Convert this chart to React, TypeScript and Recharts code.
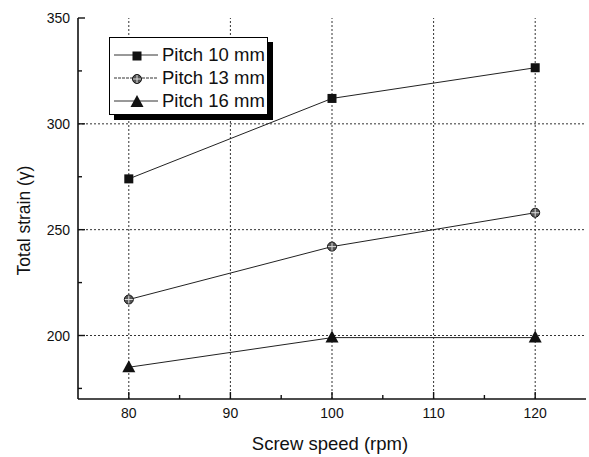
import { LineChart, Line, XAxis, YAxis, ReferenceLine, Legend } from 'recharts';

const speeds = [80, 100, 120];
const pitch10 = [274, 312, 326.5];
const pitch13 = [217, 242, 258];
const pitch16 = [185, 199, 199];
const seriesNames = ['Pitch 10 mm', 'Pitch 13 mm', 'Pitch 16 mm'];
const xTicks = [80, 85, 90, 95, 100, 105, 110, 115, 120];
const yTicks = [175, 200, 225, 250, 275, 300, 325, 350];
const xGrid = [80, 90, 100, 110, 120];
const yGrid = [200, 250, 300];

const FONT = '"Liberation Sans", Arial, sans-serif';
const INK = '#111';

const data = speeds.map((s, i) => ({
  speed: s,
  p10: pitch10[i],
  p13: pitch13[i],
  p16: pitch16[i],
}));

type Kind = 'square' | 'circle' | 'triangle';
const kinds: Kind[] = ['square', 'circle', 'triangle'];
const keys = ['p10', 'p13', 'p16'];

function Marker({ kind, cx, cy }: { kind: Kind; cx: number; cy: number }) {
  if (kind === 'square') {
    return <rect x={cx - 4.5} y={cy - 4.5} width={9} height={9} fill={INK} />;
  }
  if (kind === 'circle') {
    return (
      <g>
        <circle cx={cx} cy={cy} r={4.5} fill="#555" stroke={INK} strokeWidth={1} />
        <line x1={cx - 4} y1={cy} x2={cx + 4} y2={cy} stroke="#ddd" strokeWidth={1} />
        <line x1={cx} y1={cy - 4} x2={cx} y2={cy + 4} stroke="#ddd" strokeWidth={1} />
      </g>
    );
  }
  return (
    <polygon
      points={`${cx},${cy - 7} ${cx - 6.5},${cy + 5} ${cx + 6.5},${cy + 5}`}
      fill={INK}
    />
  );
}

// ticks point inward, Origin style; labels only on bottom/left
const makeTick = (side: 'bottom' | 'top' | 'left' | 'right', step: number, labels: boolean) =>
  (props: any) => {
    const { x, y, payload } = props;
    const v = payload.value;
    const major = v % step === 0;
    const len = major ? 7 : 4;
    let line;
    if (side === 'bottom') line = <line x1={x} y1={y} x2={x} y2={y - len} stroke={INK} strokeWidth={1.4} />;
    else if (side === 'top') line = <line x1={x} y1={y} x2={x} y2={y + len} stroke={INK} strokeWidth={1.4} />;
    else if (side === 'left') line = <line x1={x} y1={y} x2={x + len} y2={y} stroke={INK} strokeWidth={1.4} />;
    else line = <line x1={x} y1={y} x2={x - len} y2={y} stroke={INK} strokeWidth={1.4} />;
    let label = null;
    if (labels && major) {
      if (side === 'bottom') {
        label = (
          <text x={x} y={y + 19} textAnchor="middle" fontSize={14} fontFamily={FONT} fill={INK}>
            {v}
          </text>
        );
      } else if (side === 'left') {
        label = (
          <text x={x - 8} y={y + 5} textAnchor="end" fontSize={14} fontFamily={FONT} fill={INK}>
            {v}
          </text>
        );
      }
    }
    return (
      <g>
        {line}
        {label}
      </g>
    );
  };

const XTitle = (props: any) => {
  const { viewBox } = props;
  return (
    <text x={viewBox.x + viewBox.width / 2 - 2} y={450} textAnchor="middle" fontSize={18.5} fontFamily={FONT} fill={INK}>
      Screw speed (rpm)
    </text>
  );
};

const YTitle = (props: any) => {
  const { viewBox } = props;
  const cy = viewBox.y + viewBox.height / 2 + 12;
  return (
    <text x={30} y={cy} transform={`rotate(-90 30 ${cy})`} textAnchor="middle" fontSize={17.5} fontFamily={FONT} fill={INK}>
      Total strain (γ)
    </text>
  );
};

const LegendBox = () => (
  <div
    style={{
      border: '1px solid #000',
      background: '#fff',
      boxShadow: '5px 5px 0 #000',
      width: 157,
      padding: '5px 0 2px 0',
      fontFamily: FONT,
      fontSize: 18.5,
      color: INK,
    }}
  >
    {seriesNames.map((n, i) => (
      <div key={n} style={{ display: 'flex', alignItems: 'center', height: 23 }}>
        <svg width={52} height={16} style={{ flexShrink: 0 }}>
          <line x1={4} y1={8} x2={48} y2={8} stroke="#333" strokeWidth={1} strokeDasharray={i === 1 ? '3 1' : undefined} />
          <Marker kind={kinds[i]} cx={27} cy={9} />
        </svg>
        <span style={{ whiteSpace: 'nowrap' }}>{n}</span>
      </div>
    ))}
  </div>
);

export default function App() {
  return (
    <div style={{ position: 'absolute', left: 0, top: 0, background: '#fff' }}>
      <LineChart width={589} height={457} data={data} margin={{ top: 18, right: 3, bottom: 0, left: 0 }}>
        <XAxis
          xAxisId="b"
          dataKey="speed"
          type="number"
          domain={[75, 125]}
          ticks={xTicks}
          interval={0}
          height={58}
          tickSize={0}
          tickMargin={0}
          tickLine={false}
          axisLine={{ stroke: INK, strokeWidth: 1.6 }}
          tick={makeTick('bottom', 10, true)}
          label={<XTitle />}
        />
        <XAxis
          xAxisId="t"
          orientation="top"
          dataKey="speed"
          type="number"
          domain={[75, 125]}
          ticks={xTicks}
          interval={0}
          height={0}
          tickSize={0}
          tickMargin={0}
          tickLine={false}
          axisLine={{ stroke: INK, strokeWidth: 1.6 }}
          tick={makeTick('top', 10, false)}
        />
        <YAxis
          yAxisId="l"
          type="number"
          domain={[170, 350]}
          ticks={yTicks}
          interval={0}
          width={78}
          tickSize={0}
          tickMargin={0}
          tickLine={false}
          axisLine={{ stroke: INK, strokeWidth: 1.6 }}
          tick={makeTick('left', 50, true)}
          label={<YTitle />}
        />
        <YAxis
          yAxisId="r"
          orientation="right"
          type="number"
          domain={[170, 350]}
          ticks={yTicks}
          interval={0}
          width={0}
          tickSize={0}
          tickMargin={0}
          tickLine={false}
          axisLine={{ stroke: INK, strokeWidth: 1.6 }}
          tick={makeTick('right', 50, false)}
        />
        {xGrid.map((v) => (
          <ReferenceLine key={'gx' + v} x={v} xAxisId="b" yAxisId="l" stroke="#333" strokeWidth={1} strokeDasharray="2 2" />
        ))}
        {yGrid.map((v) => (
          <ReferenceLine key={'gy' + v} y={v} xAxisId="b" yAxisId="l" stroke="#333" strokeWidth={1} strokeDasharray="2 2" />
        ))}
        {keys.map((k, i) => (
          <Line
            key={k}
            xAxisId="b"
            yAxisId="l"
            dataKey={k}
            name={seriesNames[i]}
            type="linear"
            stroke="#222"
            strokeWidth={1}
            isAnimationActive={false}
            dot={(p: any) => <Marker key={k + p.index} kind={kinds[i]} cx={p.cx} cy={p.cy} />}
            activeDot={false}
          />
        ))}
        <Legend
          layout="vertical"
          align="center"
          verticalAlign="middle"
          content={<LegendBox />}
          wrapperStyle={{ top: 37, left: 109, width: 164 }}
        />
      </LineChart>
    </div>
  );
}
